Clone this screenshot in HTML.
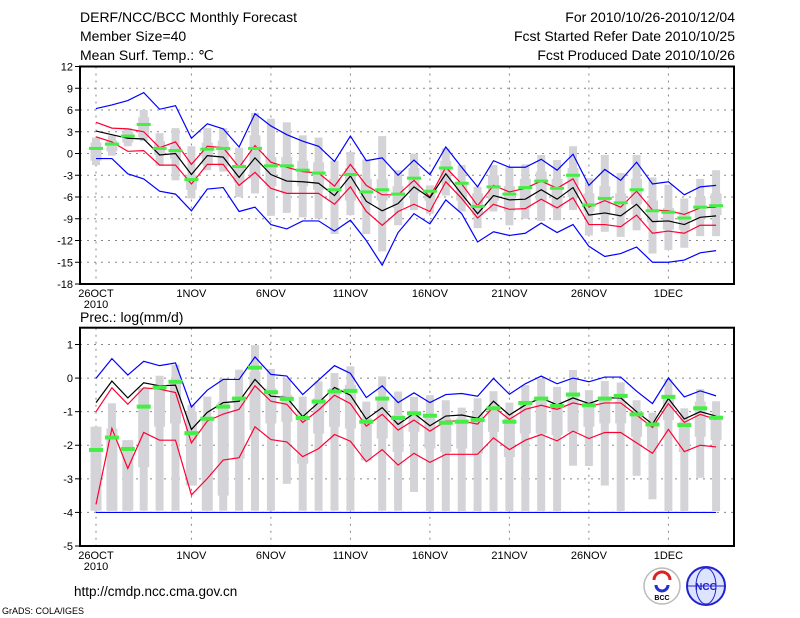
<!DOCTYPE html>
<html><head><meta charset="utf-8"><style>
body{margin:0;background:#fff;}
svg{display:block;font-family:"Liberation Sans",sans-serif;}
</style></head><body>
<svg id="chart" width="800" height="618" viewBox="0 0 800 618" xmlns="http://www.w3.org/2000/svg">
<g font-size="14" fill="#000">
<text x="80" y="22">DERF/NCC/BCC Monthly Forecast</text>
<text x="80" y="41">Member Size=40</text>
<text x="80" y="60">Mean Surf. Temp.: ℃</text>
<text x="735" y="22" text-anchor="end">For 2010/10/26-2010/12/04</text>
<text x="735" y="41" text-anchor="end">Fcst Started Refer Date 2010/10/25</text>
<text x="735" y="60" text-anchor="end">Fcst Produced Date 2010/10/26</text>
<text x="80" y="322">Prec.: log(mm/d)</text>
<text x="74" y="596" font-size="13.5">http://cmdp.ncc.cma.gov.cn</text>
<text x="2" y="614" font-size="9">GrADS: COLA/IGES</text>
</g>
<g>
<circle cx="662" cy="586" r="18" fill="#fff" stroke="#bbb" stroke-width="1.5"/>
<path d="M654 580 a8 8 0 1 1 16 0" fill="none" stroke="#d22" stroke-width="3"/>
<path d="M656 585 a6 6 0 1 0 12 0" fill="none" stroke="#23c" stroke-width="3"/>
<text x="662" y="600" font-size="7" text-anchor="middle" font-weight="bold">BCC</text>
</g>
<g>
<circle cx="706" cy="586" r="19" fill="#dde4ff" stroke="#22c" stroke-width="2"/>
<ellipse cx="706" cy="586" rx="10" ry="18" fill="none" stroke="#22c"/>
<line x1="688" y1="586" x2="724" y2="586" stroke="#22c"/>
<text x="706" y="590" font-size="10" text-anchor="middle" fill="#22c" font-weight="bold">NCC</text>
</g>
<g id="top"></g>
<g id="bot"></g>
</svg>
<script>
// ---- Temperature panel data (day 0 = 26 OCT) ----
const tBlueHi=[6.2,6.7,7.3,8.4,6.1,6.6,2.1,4.1,3.4,0.9,5.5,3.8,2.6,1.7,1.0,-1.1,2.4,-1.0,-0.6,-3.0,-0.9,-2.9,0.9,-1.9,-4.6,-1.0,-1.9,-1.9,-0.8,-2.3,-0.1,-4.4,-2.2,-3.7,-1.2,-4.2,-3.9,-5.7,-4.6,-4.4];
const tBlueLo=[-0.7,-0.7,-2.8,-3.5,-5.2,-5.6,-7.9,-4.9,-4.7,-8.0,-7.4,-9.8,-10.4,-9.3,-9.3,-10.7,-9.2,-12.0,-15.4,-10.9,-8.3,-9.7,-6.4,-8.3,-12.2,-10.8,-11.3,-11.0,-9.6,-10.9,-9.8,-12.8,-14.2,-13.8,-12.9,-15.0,-15.0,-14.7,-13.7,-13.4];
const tRedHi=[4.3,3.5,3.4,3.0,0.8,1.6,-1.5,1.0,0.8,-1.9,1.1,-1.2,-1.9,-2.5,-2.7,-4.5,-1.5,-4.4,-5.7,-5.7,-3.7,-6.0,-1.9,-4.2,-7.2,-4.4,-5.3,-4.8,-3.8,-4.8,-3.5,-7.4,-6.5,-7.4,-5.2,-7.8,-7.9,-8.4,-7.5,-7.4];
const tRedLo=[2.3,1.6,0.3,0.4,-1.6,-1.6,-4.2,-1.5,-1.5,-4.4,-2.6,-4.8,-5.5,-5.5,-5.5,-7.0,-4.6,-8.0,-9.9,-8.0,-7.0,-8.0,-3.9,-6.2,-8.9,-7.0,-7.7,-7.6,-6.3,-7.5,-6.1,-9.8,-9.8,-10.1,-8.5,-11.0,-10.7,-11.0,-9.9,-9.9];
const tMean=[3.1,2.6,2.1,2.0,-0.2,0.0,-2.9,-0.3,-0.5,-3.3,-0.6,-2.9,-3.8,-3.9,-4.1,-5.8,-3.1,-6.6,-7.9,-6.9,-4.6,-6.1,-2.8,-5.6,-8.3,-5.8,-6.4,-6.3,-5.0,-6.3,-4.7,-8.5,-8.2,-8.6,-7.0,-9.4,-9.3,-9.8,-8.8,-8.6];
const tObs=[0.7,1.3,2.4,4.0,0.7,0.4,-3.6,0.6,0.7,-1.8,0.7,-1.7,-1.7,-2.3,-2.7,-5.0,-2.9,-5.3,-5.0,-5.6,-3.4,-5.2,-2.0,-4.1,-7.3,-4.6,-5.6,-4.7,-3.8,-4.8,-3.0,-7.1,-6.2,-6.8,-5.0,-7.9,-8.1,-8.9,-7.4,-7.2];
const tBarHi=[2.2,2.5,3.5,6.0,2.8,3.5,1.0,3.5,3.5,0.8,5.6,4.8,4.3,2.5,2.2,-1.0,0.2,-0.8,2.4,-2.3,0.0,-4.4,0.7,-1.6,-4.6,-1.6,-1.9,-1.5,-0.2,-0.9,1.0,-3.4,-0.2,-2.7,-0.2,-3.3,-4.3,-6.2,-3.5,-2.3];
const tBarLo=[-1.6,-0.3,1.0,1.7,-1.7,-3.7,-6.2,-2.3,-2.5,-6.0,-5.5,-8.6,-8.2,-8.8,-9.0,-11.1,-8.5,-11.1,-13.5,-9.9,-7.8,-8.3,-5.8,-8.0,-10.3,-8.0,-9.9,-9.0,-9.3,-9.2,-7.8,-11.3,-10.8,-11.5,-10.6,-13.8,-13.3,-13.0,-11.4,-11.4];
const tBoxHi=[1.5,1.8,3.0,5.0,1.7,1.0,-3.0,1.5,1.8,-1.5,2.5,-0.5,-0.5,-1.0,-1.2,-3.5,-2.0,-3.5,-3.5,-4.5,-2.0,-5.0,-1.0,-4.0,-5.5,-3.0,-4.5,-3.5,-2.5,-3.5,-2.0,-5.5,-4.5,-5.5,-3.5,-6.5,-7.5,-8.0,-6.0,-5.5];
const tBoxLo=[-1.0,0.3,1.5,2.2,-0.2,-0.7,-5.0,-1.5,-1.8,-4.0,-3.5,-4.5,-5.5,-4.5,-5.0,-6.5,-6.5,-7.0,-6.5,-7.5,-5.5,-6.5,-4.0,-6.5,-8.5,-6.5,-8.0,-7.5,-6.5,-7.5,-6.0,-8.0,-8.5,-8.5,-7.0,-9.5,-10.5,-10.5,-9.0,-8.5];
const tTicks=[12,9,6,3,0,-3,-6,-9,-12,-15,-18];
// ---- Precipitation panel data ----
const pBlueHi=[-0.01,0.58,0.09,0.5,0.37,0.45,-0.86,-0.36,-0.04,-0.04,0.63,0.11,0.06,-0.49,-0.06,0.37,0.14,-0.58,-0.23,-0.73,-0.44,-0.73,-0.49,-0.46,-0.54,-0.01,-0.48,-0.17,0.06,-0.17,0.0,-0.11,0.03,0.03,-0.39,-0.76,0.0,-0.56,-0.38,-0.53];
const pBlueLo=[-4,-4,-4,-4,-4,-4,-4,-4,-4,-4,-4,-4,-4,-4,-4,-4,-4,-4,-4,-4,-4,-4,-4,-4,-4,-4,-4,-4,-4,-4,-4,-4,-4,-4,-4,-4,-4,-4,-4,-4];
const pRedHi=[-1.0,-0.29,-0.78,-0.29,-0.33,-0.43,-1.93,-1.28,-1.07,-0.93,-0.23,-0.69,-0.78,-1.32,-0.95,-0.51,-0.76,-1.43,-1.08,-1.55,-1.25,-1.58,-1.28,-1.28,-1.37,-0.86,-1.23,-0.93,-0.81,-0.93,-0.74,-0.84,-0.74,-0.74,-1.1,-1.47,-0.76,-1.32,-1.08,-1.23];
const pRedLo=[-3.76,-1.5,-2.69,-1.62,-1.85,-1.85,-3.48,-2.99,-2.44,-2.37,-1.45,-1.83,-1.9,-2.34,-2.1,-1.68,-1.88,-2.49,-2.13,-2.59,-2.24,-2.51,-2.27,-2.27,-2.27,-1.78,-2.13,-1.85,-1.68,-1.87,-1.58,-1.8,-1.62,-1.62,-1.93,-2.24,-1.53,-2.19,-2.0,-2.05];
const pMean=[-0.73,-0.09,-0.59,-0.14,-0.23,-0.21,-1.53,-1.02,-0.73,-0.69,-0.04,-0.54,-0.58,-1.15,-0.73,-0.28,-0.51,-1.22,-0.88,-1.38,-1.05,-1.42,-1.13,-1.1,-1.2,-0.69,-1.1,-0.8,-0.59,-0.8,-0.59,-0.76,-0.59,-0.59,-1.0,-1.37,-0.61,-1.22,-1.0,-1.13];
const pObs=[-2.14,-1.77,-2.11,-0.85,-0.28,-0.11,-1.64,-1.21,-0.85,-0.61,0.31,-0.42,-0.62,-1.19,-0.7,-0.4,-0.38,-1.3,-0.61,-1.19,-1.05,-1.12,-1.33,-1.3,-1.25,-0.9,-1.3,-0.74,-0.61,-0.83,-0.49,-0.81,-0.61,-0.53,-1.08,-1.38,-0.56,-1.4,-0.9,-1.18];
const pBarHi=[-1.45,-0.75,-1.85,-0.3,0.07,0.4,-0.8,-0.55,0.0,0.25,0.98,0.27,0.0,-0.55,-0.1,0.15,0.35,-0.7,0.05,-0.4,-0.56,-0.51,-0.66,-0.88,-0.6,-0.39,-0.73,-0.21,-0.01,-0.26,0.24,-0.36,-0.09,-0.13,-0.66,-1.03,-0.03,-0.9,-0.33,-0.69];
const pBarLo=[-3.95,-3.95,-3.95,-3.95,-3.95,-3.95,-3.2,-3.95,-3.95,-3.95,-3.95,-3.95,-3.15,-3.95,-3.95,-3.95,-3.95,-2.45,-3.95,-3.95,-3.39,-3.96,-3.96,-3.96,-3.96,-3.96,-3.96,-3.96,-3.96,-3.96,-2.61,-2.62,-3.2,-3.96,-2.91,-3.61,-3.96,-3.96,-2.97,-3.96];
const pBoxHi=[-1.45,-1.5,-1.85,-0.3,-0.3,-0.1,-1.0,-1.2,-0.7,-0.6,0.2,-0.3,-0.5,-1.0,-0.6,-0.3,-0.2,-1.2,-0.6,-1.1,-1.0,-1.1,-1.2,-1.2,-1.0,-0.9,-1.2,-0.7,-0.6,-0.7,-0.5,-0.8,-0.6,-0.7,-1.0,-1.3,-0.5,-1.3,-0.7,-1.2];
const pBoxLo=[-3.95,-3.95,-3.95,-2.65,-1.45,-1.35,-3.2,-3.95,-3.5,-2.4,-1.55,-1.35,-1.3,-2.55,-1.65,-1.45,-1.5,-2.45,-1.8,-2.2,-1.6,-2.1,-2.2,-2.1,-2.25,-1.6,-2.35,-1.65,-1.65,-1.7,-1.6,-1.45,-1.35,-1.35,-1.75,-2.1,-1.25,-2.2,-1.75,-1.85];
const pTicks=[1,0,-1,-2,-3,-4,-5];
const dateLabels=["26OCT","1NOV","6NOV","11NOV","16NOV","21NOV","26NOV","1DEC"];
const dateDays=[0,6,11,16,21,26,31,36];

const NS="http://www.w3.org/2000/svg";
const X0=96, DX=15.9, L=80, R=734;
function xs(d){return X0+DX*d;}
function mk(tag,attrs,parent){const e=document.createElementNS(NS,tag);for(const k in attrs)e.setAttribute(k,attrs[k]);parent.appendChild(e);return e;}

function panel(g,top,bot,vmax,vmin,ticks,S){
  const ys=v=>top+(vmax-v)/(vmax-vmin)*(bot-top);
  ticks.forEach(t=>{
    const y=ys(t);
    const gl=mk('line',{x1:L,x2:R,y1:y,y2:y,stroke:'#888','stroke-dasharray':'2,5','stroke-width':1},g);
    
    
    const tk=mk('line',{x1:L-5,x2:L,y1:y,y2:y,stroke:'#000'},g);
    
    
    const tx=mk('text',{x:L-7,y:y+4,'text-anchor':'end','font-size':11},g);
    tx.textContent=String(t);
    
    
  });
  dateDays.forEach((d,i)=>{
    const x=xs(d);
    const gl=mk('line',{x1:x,x2:x,y1:top,y2:bot,stroke:'#888','stroke-dasharray':'2,5'},g);
    
    
    const tx=mk('text',{x:x,y:bot+13,'text-anchor':'middle','font-size':11},g);
    tx.textContent=dateLabels[i];
    
    
  });
  const yr=mk('text',{x:xs(0),y:bot+24,'text-anchor':'middle','font-size':11},g);
  yr.textContent='2010';
  
  
  for(let d=0;d<S.bh.length;d++){
    const x=xs(d);
    const b1=mk('rect',{x:x-4,y:ys(S.bh[d]),width:8,height:Math.max(1,ys(S.bl[d])-ys(S.bh[d])),fill:'#d4d4d8'},g);
    
    
    const b2=mk('rect',{x:x-5.5,y:ys(S.qh[d]),width:11,height:Math.max(1,ys(S.ql[d])-ys(S.qh[d])),fill:'#d4d4d8'},g);
    
    
  }
  const line=(arr,col,name)=>{
    const p=mk('polyline',{points:arr.map((v,d)=>xs(d)+','+ys(v)).join(' '),fill:'none',stroke:col,'stroke-width':1.2},g);
    
    
  };
  line(S.blo,'#0000ff','blue-lower-line');
  line(S.bhi,'#0000ff','blue-upper-line');
  line(S.rlo,'#ff0033','red-lower-line');
  line(S.rhi,'#ff0033','red-upper-line');
  line(S.mean,'#000','ensemble-mean-line');
  S.obs.forEach((v,d)=>{
    const r=mk('rect',{x:xs(d)-7,y:ys(v)-S.oh/2,width:14,height:S.oh,fill:'#44ee44'},g);
    
    
  });
  const f=mk('rect',{x:L,y:top,width:R-L,height:bot-top,fill:'none',stroke:'#000','stroke-width':2},g);
  
  
}
panel(document.getElementById('top'),66.5,284,12,-18,tTicks,{bh:tBarHi,bl:tBarLo,qh:tBoxHi,ql:tBoxLo,bhi:tBlueHi,blo:tBlueLo,rhi:tRedHi,rlo:tRedLo,mean:tMean,obs:tObs,oh:3});
panel(document.getElementById('bot'),327.7,546,1.5,-5,pTicks,{bh:pBarHi,bl:pBarLo,qh:pBoxHi,ql:pBoxLo,bhi:pBlueHi,blo:pBlueLo,rhi:pRedHi,rlo:pRedLo,mean:pMean,obs:pObs,oh:4});
</script>
</body></html>
